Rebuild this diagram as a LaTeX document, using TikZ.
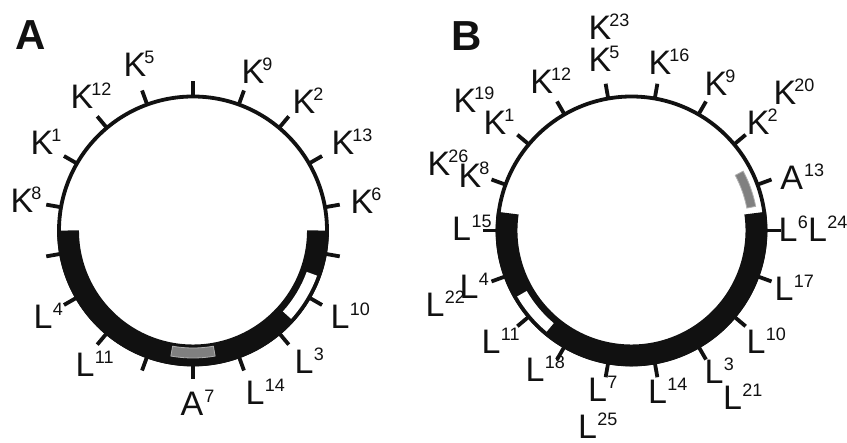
\documentclass[tikz,border=0pt]{standalone}
\usepackage{fontspec}
\setmainfont{Liberation Sans}
\newcommand\supfont{\fontsize{18}{18}\selectfont}
\newcommand\Ksup[1]{K\rlap{\kern-2pt\smash{\raisebox{13pt}{\supfont #1}}}}
\newcommand\Lsup[1]{L\rlap{\kern0.5pt\smash{\raisebox{13pt}{\supfont #1}}}}
\newcommand\Asup[1]{A\rlap{\kern1pt\smash{\raisebox{13pt}{\supfont #1}}}}
\definecolor{boxgrey}{RGB}{128,128,128}
\definecolor{boxedge}{RGB}{175,175,175}
\definecolor{ink}{RGB}{17,17,17}
\tikzset{
  ring/.style={draw=ink, line width=3.8pt},
  band/.style={draw=ink, line width=21.75pt},
  tickmark/.style={draw=ink, line width=3.8pt},
  lab/.style={inner sep=0pt, outer sep=0pt, text=ink, font=\fontsize{34}{34}\selectfont},
  panel/.style={inner sep=0pt, text=ink, font=\fontsize{42}{42}\selectfont\bfseries},
  whitebox/.style={fill=white},
  greybox/.style={fill=boxgrey, draw=boxedge, line width=0.8pt}
}
\begin{document}
\begin{tikzpicture}[x=1pt,y=1pt]
\useasboundingbox (0,0) rectangle (847,-443);
\fill[white] (0,0) rectangle (847,-443);

% panel letters
\node[panel] (pA) at (31,-35) {A};
\node[panel] (pB) at (466.7,-36) {B};

% ---------- circle A ----------
\begin{scope}[shift={(193,-230.5)}]
  \draw[ring] (0,0) circle[radius=134];
  \draw[band] (180:124.9) arc[start angle=180, end angle=360, radius=124.9];
  \fill[whitebox] (318:121) arc[start angle=318, end angle=340, radius=121]
     -- (340:132) arc[start angle=340, end angle=318, radius=132] -- cycle;
  \path[greybox] (260:117.5) arc[start angle=260, end angle=280, radius=117.5]
     -- (280:127.5) arc[start angle=280, end angle=260, radius=127.5] -- cycle;
  \foreach \a in {10,30,...,350} {\draw[tickmark] (\a:133) -- (\a:149);}
\end{scope}

\node[lab] (aK5)  at (135,-65)  {\Ksup{5}};
\node[lab] (aK9)  at (253,-72)  {\Ksup{9}};
\node[lab] (aK12) at (82,-97)   {\Ksup{12}};
\node[lab] (aK2)  at (304,-102) {\Ksup{2}};
\node[lab] (aK1)  at (42,-143)  {\Ksup{1}};
\node[lab] (aK13) at (343,-143) {\Ksup{13}};
\node[lab] (aK8)  at (22,-201)  {\Ksup{8}};
\node[lab] (aK6)  at (362,-202) {\Ksup{6}};
\node[lab] (aL4)  at (43,-317)  {\Lsup{4}};
\node[lab] (aL10) at (340,-317) {\Lsup{10}};
\node[lab] (aL11) at (85,-365)  {\Lsup{11}};
\node[lab] (aL3)  at (304,-362) {\Lsup{3}};
\node[lab] (aA7)  at (192,-404) {\Asup{7}};
\node[lab] (aL14) at (255,-393) {\Lsup{14}};

% ---------- circle B ----------
\begin{scope}[shift={(631.5,-230.5)}]
  \draw[ring] (0,0) circle[radius=134];
  \draw[band] (172:124.9) arc[start angle=172, end angle=368, radius=124.9];
  \fill[whitebox] (210:121) arc[start angle=210, end angle=230, radius=121]
     -- (230:132) arc[start angle=230, end angle=210, radius=132] -- cycle;
  \path[greybox] (11:117.5) arc[start angle=11, end angle=28, radius=117.5]
     -- (28:126.5) arc[start angle=28, end angle=11, radius=126.5] -- cycle;
  \foreach \a in {0,20,...,340} {\draw[tickmark] (\a:133) -- (\a:149);}
\end{scope}

\node[lab] (bK23) at (600,-28)    {\Ksup{23}};
\node[lab] (bK5)  at (600,-60)    {\Ksup{5}};
\node[lab] (bK16) at (660,-63)    {\Ksup{16}};
\node[lab] (bK12) at (541.7,-81.7) {\Ksup{12}};
\node[lab] (bK9)  at (716,-84)    {\Ksup{9}};
\node[lab] (bK19) at (465,-101)   {\Ksup{19}};
\node[lab] (bK20) at (785,-92.5)  {\Ksup{20}};
\node[lab] (bK1)  at (495,-123)   {\Ksup{1}};
\node[lab] (bK2)  at (758.3,-122.5) {\Ksup{2}};
\node[lab] (bK26) at (439,-164)   {\Ksup{26}};
\node[lab] (bK8)  at (470,-176)   {\Ksup{8}};
\node[lab] (bA13) at (791.7,-178.3) {\Asup{13}};
\node[lab] (bL15) at (461.7,-229) {\Lsup{15}};
\node[lab] (bL6)  at (788,-230)   {\Lsup{6}};
\node[lab] (bL24) at (817.5,-230) {\Lsup{24}};
\node[lab] (bL17) at (784,-289)   {\Lsup{17}};
\node[lab] (bL4)  at (469,-287)   {\Lsup{4}};
\node[lab] (bL22) at (435,-305)   {\Lsup{22}};
\node[lab] (bL11) at (491,-341.7) {\Lsup{11}};
\node[lab] (bL10) at (756,-341.7) {\Lsup{10}};
\node[lab] (bL18) at (535,-370)   {\Lsup{18}};
\node[lab] (bL3)  at (714,-371.7) {\Lsup{3}};
\node[lab] (bL21) at (732.5,-398.3) {\Lsup{21}};
\node[lab] (bL7)  at (597.5,-390) {\Lsup{7}};
\node[lab] (bL14) at (657.5,-391.7) {\Lsup{14}};
\node[lab] (bL25) at (587.5,-427) {\Lsup{25}};
\end{tikzpicture}
\end{document}
